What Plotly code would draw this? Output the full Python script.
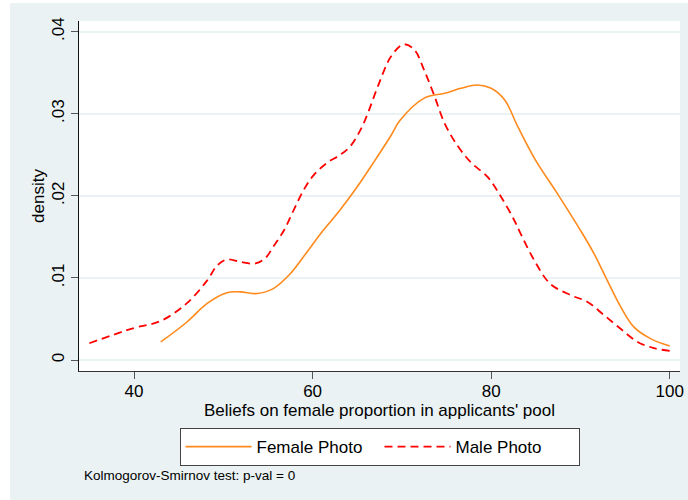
import plotly.graph_objects as go

# Kernel density estimates
female_x = [43.0, 45.9, 48.2, 50.4, 51.9, 53.8, 55.6, 57.5, 59.4, 61.2, 63.1, 65.0, 66.85,
            68.7, 69.8, 72.5, 74.8, 76.6, 78.5, 80.0, 81.5, 83.0, 84.97, 87.4, 90.0, 91.5,
            93.0, 94.5, 96.0, 97.85, 100.0]
female_y = [0.0022, 0.0046, 0.0069, 0.0082, 0.0083, 0.0081, 0.0087, 0.0105, 0.0132, 0.0158,
            0.0183, 0.0211, 0.0241, 0.0272, 0.0292, 0.0319, 0.0325, 0.0331, 0.0335, 0.0331,
            0.0317, 0.0284, 0.02435, 0.0203, 0.0158, 0.0130, 0.0097, 0.0065, 0.0040, 0.0026,
            0.0017]

male_x = [35.0, 40.0, 43.0, 45.9, 48.2, 49.3, 50.4, 51.9, 53.6, 54.7, 55.6, 56.8, 57.9,
          59.0, 60.1, 61.6, 63.1, 64.2, 65.35, 66.2, 67.3, 68.8, 70.2, 71.4, 72.5, 73.6,
          74.8, 76.3, 77.8, 79.6, 81.1, 82.6, 83.3, 84.8, 86.6, 88.9, 90.75, 92.6, 94.5,
          96.4, 98.2, 100.0]
male_y = [0.00204, 0.0039, 0.00476, 0.0069, 0.0097, 0.0115, 0.01224, 0.01195, 0.01176,
          0.0124, 0.0138, 0.0158, 0.0183, 0.0207, 0.0225, 0.0240, 0.0250, 0.0260, 0.0280,
          0.0301, 0.0333, 0.0370, 0.03846, 0.0378, 0.0353, 0.0323, 0.0288, 0.0260, 0.0240,
          0.0223, 0.0199, 0.0170, 0.0154, 0.0122, 0.0093, 0.0079, 0.0071, 0.0055, 0.0038,
          0.0022, 0.00146, 0.0011]

x_ticks = [40, 60, 80, 100]
y_ticks = [0, 0.01, 0.02, 0.03, 0.04]
y_tick_labels = ["0", ".01", ".02", ".03", ".04"]

series_names = ["Female Photo", "Male Photo"]
x_title = "Beliefs on female proportion in applicants' pool"
y_title = "density"
note_text = "Kolmogorov-Smirnov test: p-val = 0"

FONT = "Liberation Sans, Arial, Helvetica, sans-serif"
BG = "#eaf2f3"

fig = go.Figure()
fig.add_trace(go.Scatter(x=female_x, y=female_y, mode="lines", name=series_names[0],
                         line=dict(color="#ff8a1c", width=1.6, shape="spline")))
fig.add_trace(go.Scatter(x=male_x, y=male_y, mode="lines", name=series_names[1],
                         line=dict(color="#ff0000", width=1.8, shape="spline", dash="8px,5px")))

fig.update_layout(
    width=688, height=500,
    margin=dict(l=79, r=8, t=21, b=129.3, autoexpand=False),
    paper_bgcolor=BG, plot_bgcolor="white",
    font=dict(family=FONT, size=17, color="black"),
    showlegend=True,
    legend=dict(orientation="h", x=0.5, xanchor="center", y=-0.163, yanchor="top",
                bgcolor="white", bordercolor="#444", borderwidth=1,
                font=dict(size=17), entrywidth=118, itemwidth=66),
    xaxis=dict(range=[33.84, 101.15], tickvals=x_ticks, ticks="outside", ticklen=7,
               tickcolor="#555", showline=True, linecolor="#333", linewidth=1.3,
               showgrid=False, zeroline=False, tickfont=dict(size=17), automargin=False,
               ticklabelstandoff=-3,
               title=dict(text=x_title, font=dict(size=17), standoff=0)),
    yaxis=dict(range=[-0.00134, 0.0413], tickvals=y_ticks, ticktext=y_tick_labels,
               ticks="outside", ticklen=7, tickcolor="#555", tickangle=-90,
               showline=True, linecolor="#111", linewidth=1.3,
               showgrid=True, gridcolor=BG, gridwidth=1.5, zeroline=False,
               tickfont=dict(size=17), automargin=False,
               title=dict(text=y_title, font=dict(size=17), standoff=0)),
    shapes=[
        dict(type="rect", xref="paper", yref="paper", x0=-0.2, x1=-0.1148, y0=-0.5, y1=1.1,
             fillcolor="white", line=dict(width=0), layer="below"),
        dict(type="rect", xref="paper", yref="paper", x0=-0.2, x1=1.1, y0=1.0515, y1=1.1,
             fillcolor="white", line=dict(width=0), layer="below"),
    ],
    annotations=[
        dict(text=note_text, xref="paper", yref="paper", x=0.005, y=-0.298,
             xanchor="left", yanchor="middle", showarrow=False, font=dict(size=13.5)),
    ],
)

fig.write_html("out.html", config={"displayModeBar": False},
               post_script="document.body.style.margin='0';")
